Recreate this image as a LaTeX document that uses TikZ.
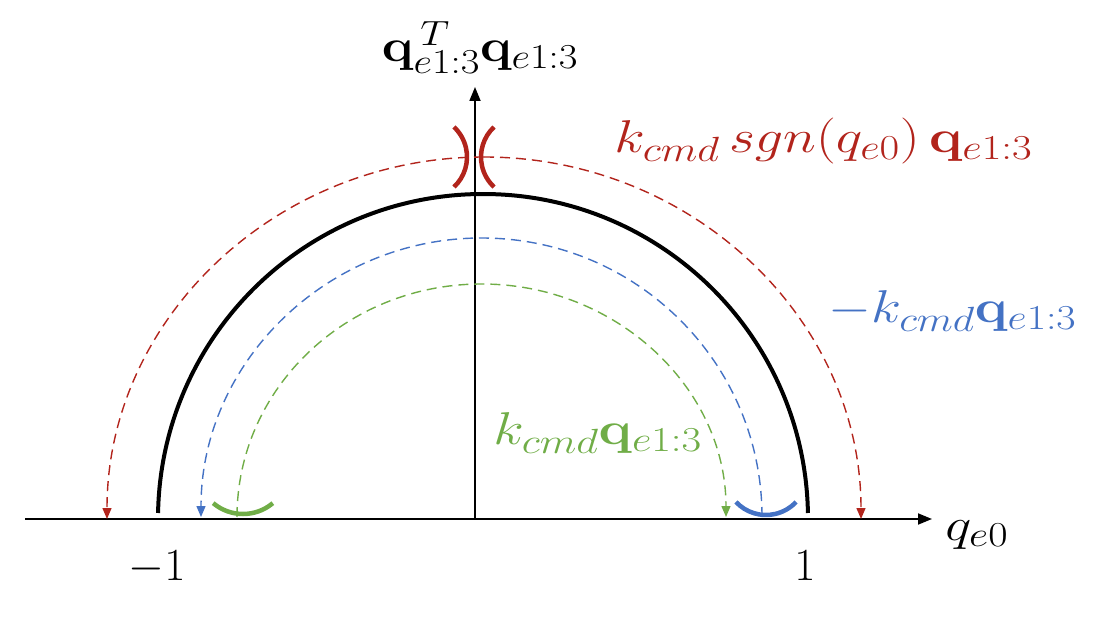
\documentclass[tikz,border=0pt]{standalone}
\usepackage{fix-cm}
\usepackage{amsmath}
\usetikzlibrary{arrows.meta}
\DeclareMathSizes{46}{46}{35}{27}
\definecolor{cred}{RGB}{178,36,28}
\definecolor{cblue}{RGB}{68,114,196}
\definecolor{cgreen}{RGB}{112,173,71}
\tikzset{
  axis/.style={line width=1.8pt,-{Triangle[length=14pt,width=11pt]}},
  dsh/.style={line width=1.4pt,dash pattern=on 10pt off 6pt},
  tip/.style={-{Triangle[length=11pt,width=9pt]}},
  brk/.style={line width=4.5pt},
  lbl/.style={inner sep=0pt,font=\fontsize{46}{52}\selectfont},
  wlbl/.style={lbl,xscale=#1,transform shape},
  wlbl/.default=1.16,
}
\begin{document}
\begin{tikzpicture}[x=1pt,y=1pt]
\useasboundingbox (0,0) rectangle (1094,624);
% axes
\coordinate (xl) at (25,105);
\coordinate (xr) at (932,105);
\coordinate (yb) at (475,105);
\coordinate (yt) at (475,537);
\draw[axis] (xl) -- (xr);
\draw[axis] (yb) -- (yt);
% black semicircle
\draw[line width=4pt] (483,105) ++(1.06:325) arc[start angle=1.06,end angle=178.94,radius=325];
% red dashed
\draw[dsh,cred,tip] (484,467) arc[start angle=90,end angle=180,x radius=377,y radius=362];
\draw[dsh,cred,tip] (484,467) arc[start angle=90,end angle=0,x radius=377,y radius=362];
% blue dashed
\draw[dsh,cblue,tip] (762,107) arc[start angle=0,end angle=180,x radius=280.5,y radius=279];
% green dashed
\draw[dsh,cgreen,tip] (237,107) arc[start angle=180,end angle=0,x radius=244.5,y radius=233];
% brackets
\draw[brk,cred] (426,467) ++(-47:41) arc[start angle=-47,end angle=47,radius=41];
\draw[brk,cred] (522,467) ++(133:41) arc[start angle=133,end angle=227,radius=41];
\draw[brk,cgreen] (243,156.4) ++(230:46.4) arc[start angle=230,end angle=310,radius=46.4];
\draw[brk,cblue] (766,150.1) ++(223:41.1) arc[start angle=223,end angle=317,radius=41.1];
% labels
\node[wlbl,anchor=base] (ylab) at (480,562) {$\mathbf{q}^{\,T}_{e1:3}\mathbf{q}_{e1:3}$};
\node[wlbl=1.22,anchor=base west,text=cred] (rlab) at (614,471) {$k_{cmd}\,sgn(q_{e0})\,\mathbf{q}_{e1:3}$};
\node[wlbl=1.2,anchor=base west,text=cblue] (blab) at (828,301) {$-k_{cmd}\mathbf{q}_{e1:3}$};
\node[wlbl=1.22,anchor=base west,text=cgreen] (glab) at (493,179) {$k_{cmd}\mathbf{q}_{e1:3}$};
\node[lbl,anchor=base] (m1) at (157,44) {$-1$};
\node[lbl,anchor=base] (p1) at (805,44) {$1$};
\node[wlbl=1.2,anchor=base west] (xlab) at (945,84) {$q_{e0}$};
\end{tikzpicture}
\end{document}
